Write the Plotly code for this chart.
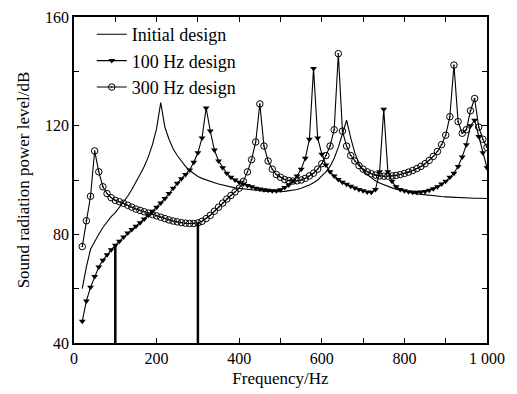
import plotly.graph_objects as go

freq = list(range(20, 1010, 10))

initial_design = [
    60, 68, 74.5, 77.5, 80, 82.5, 84.5, 86.5, 88, 90,
    92, 94, 96.5, 99, 102, 105, 108.5, 113, 119, 128.5,
    119.5, 115, 111.5, 109, 107, 105, 103.5, 102.3, 101.3, 100.6,
    100, 99.5, 99, 98.5, 98.1, 97.7, 97.4, 97.1, 96.9, 96.7,
    96.5, 96.3, 96.1, 96, 95.9, 95.8, 95.7, 95.7, 95.7, 95.8,
    96, 96.2, 96.5, 97, 97.5, 98.2, 99, 100, 101.5, 103,
    105, 108, 112, 117, 122, 115.5, 110, 106, 103.5, 102,
    100.7, 99.7, 98.9, 98.2, 97.6, 97.1, 96.6, 96.2, 95.8, 95.5,
    95.2, 94.9, 94.7, 94.5, 94.3, 94.1, 94, 93.9, 93.8, 93.7,
    93.6, 93.5, 93.5, 93.4, 93.4, 93.3, 93.3, 93.2, 93.2,
]

design_100hz = [
    48, 55.5, 60.5, 64.5, 68, 70.5, 72.5, 74.3, 76, 77.5,
    79, 80.5, 81.8, 83, 84.3, 85.6, 87, 88.5, 90, 91.5,
    93.2, 95, 97, 98.8, 100.5, 102, 103.7, 106.5, 110, 115.5,
    126.5, 118, 111, 107, 104.5, 102.5, 101, 100, 99.2, 98.5,
    98, 97.5, 97, 96.7, 96.4, 96.2, 96, 96, 96.4, 97.2,
    98.2, 99.6, 101.5, 104, 108, 115, 141, 115.5, 109.5, 105.5,
    103, 101.5, 100.2, 99.2, 98.4, 97.7, 97.1, 96.5, 96, 95.6,
    95.5, 96.5, 103, 126, 103, 99.5, 97.5, 96.5, 96, 95.7,
    95.5, 95.5, 95.6, 95.8, 96.2, 96.8, 97.5, 98.5, 99.5, 101,
    102.5, 105, 108.5, 113, 120, 122, 116, 110, 104.5,
]

design_300hz = [
    75.5, 85, 94, 110.7, 103, 97.5, 95, 93.5, 92.5, 92,
    91.4, 90.7, 90, 89.3, 88.8, 88.3, 87.8, 87.3, 86.8, 86.3,
    85.8, 85.3, 84.9, 84.6, 84.3, 84.1, 84, 84, 84.2, 84.8,
    85.8, 87, 88.5, 90, 91.5, 93, 94.3, 95.6, 97, 99.5,
    103, 107.5, 114, 128, 112.5, 107, 104, 102, 101, 100.2,
    99.8, 99.6, 99.7, 100, 100.6, 101.5, 102.5, 104, 106, 109,
    112.5, 118.5, 146.5, 118, 112.5, 109, 107, 105.3, 104, 103,
    102.3, 101.8, 101.5, 101.4, 101.4, 101.5, 101.7, 102, 102.4, 102.9,
    103.5, 104.2, 105, 106, 107.2, 108.7, 110.5, 113, 116.5, 123.3,
    142.3, 121.5, 117.2, 118.5, 125.5, 130, 119.5, 115, 112,
]

design_freqs = [100, 300]
series_names = ["Initial design", "100 Hz design", "300 Hz design"]

x_tickvals = [0, 100, 200, 300, 400, 500, 600, 700, 800, 900, 1000]
x_ticktext = ["0", "", "200", "", "400", "", "600", "", "800", "", "1 000"]
y_tickvals = [40, 60, 80, 100, 120, 140, 160]
y_ticktext = ["40", "", "80", "", "120", "", "160"]

fig = go.Figure()

fig.add_trace(go.Scatter(
    x=freq, y=initial_design, mode="lines", name=series_names[0],
    line=dict(color="black", width=1.1),
))
fig.add_trace(go.Scatter(
    x=freq, y=design_100hz, mode="lines+markers", name=series_names[1],
    line=dict(color="black", width=1.1),
    marker=dict(symbol="triangle-down", size=6, color="black"),
))
fig.add_trace(go.Scatter(
    x=freq, y=design_300hz, mode="lines+markers", name=series_names[2],
    line=dict(color="black", width=1.1),
    marker=dict(symbol="circle-open-dot", size=6.5, color="black",
                line=dict(width=1, color="black")),
))

# vertical lines at the design frequencies
for f, series in zip(design_freqs, [design_100hz, design_300hz]):
    idx = freq.index(f)
    fig.add_trace(go.Scatter(
        x=[f, f], y=[40, series[idx]], mode="lines", showlegend=False,
        line=dict(color="black", width=2.5), hoverinfo="skip",
    ))

font_family = "Liberation Serif, Times New Roman, serif"

# the page body has an 8px margin, so the figure is 8px smaller each way
fig.update_layout(
    width=509, height=386,
    margin=dict(l=66, r=30, t=9, b=51, autoexpand=False),
    paper_bgcolor="white", plot_bgcolor="white",
    font=dict(family=font_family, size=16, color="black"),
    showlegend=True,
    legend=dict(x=0.043, y=1.003, xanchor="left", yanchor="top",
                bgcolor="rgba(0,0,0,0)", font=dict(size=18),
                tracegroupgap=0, itemsizing="trace"),
    xaxis=dict(
        range=[0, 1000], tickvals=x_tickvals, ticktext=x_ticktext,
        ticks="inside", ticklen=5, tickcolor="black", tickwidth=1.2,
        showline=True, linecolor="black", linewidth=1.5, mirror="ticks",
        showgrid=False, zeroline=False, automargin=False,
        title=dict(text="Frequency/Hz", standoff=6, font=dict(size=17)),
    ),
    yaxis=dict(
        range=[40, 160], tickvals=y_tickvals, ticktext=y_ticktext,
        ticks="inside", ticklen=5, tickcolor="black", tickwidth=1.2,
        showline=True, linecolor="black", linewidth=1.5, mirror="ticks",
        showgrid=False, zeroline=False, automargin=False,
        title=dict(text="Sound radiation power level/dB", standoff=11,
                   font=dict(size=17)),
    ),
)

fig.write_html("out.html")
